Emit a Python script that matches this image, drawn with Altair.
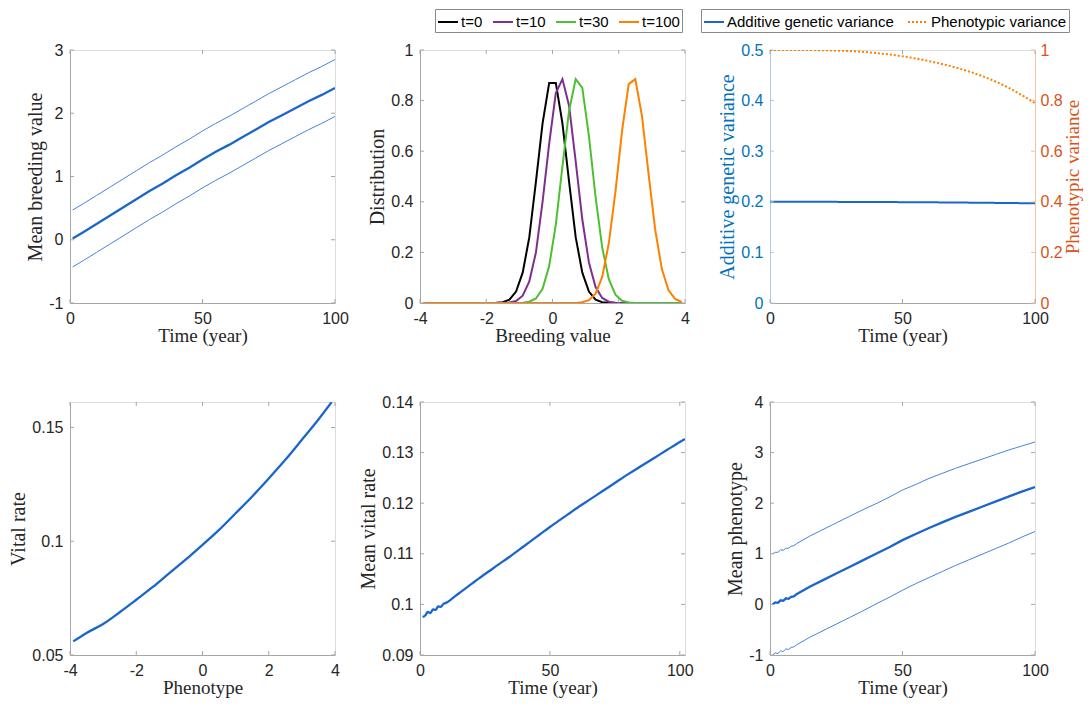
import altair as alt
import pandas as pd

# ---------------- data ----------------
# Panel 1: mean breeding value over time
time_bv = [1, 5, 10, 15, 20, 25, 30, 35, 40, 45, 50, 55, 60, 65, 70, 75, 80, 85, 90, 95, 100]
bv_mean = [0.02, 0.12, 0.25, 0.38, 0.51, 0.64, 0.77, 0.89, 1.02, 1.14, 1.27, 1.39, 1.50, 1.62,
           1.74, 1.86, 1.97, 2.08, 2.19, 2.29, 2.40]
bv_upper = [0.47, 0.57, 0.70, 0.83, 0.96, 1.09, 1.22, 1.34, 1.47, 1.59, 1.72, 1.84, 1.95, 2.07,
            2.19, 2.31, 2.42, 2.53, 2.64, 2.74, 2.85]
bv_lower = [-0.43, -0.33, -0.20, -0.07, 0.06, 0.19, 0.32, 0.44, 0.57, 0.69, 0.82, 0.94, 1.05, 1.17,
            1.29, 1.41, 1.52, 1.63, 1.74, 1.84, 1.95]

# Panel 2: distribution of breeding values
bv_grid = [-3.9, -3.7, -3.5, -3.3, -3.1, -2.9, -2.7, -2.5, -2.3, -2.1, -1.9, -1.7, -1.5, -1.3,
           -1.1, -0.9, -0.7, -0.5, -0.3, -0.1, 0.1, 0.3, 0.5, 0.7, 0.9, 1.1, 1.3, 1.5, 1.7, 1.9,
           2.1, 2.3, 2.5, 2.7, 2.9, 3.1, 3.3, 3.5, 3.7, 3.9]
dist_t0 = [0, 0, 0, 0, 0, 0, 0, 0, 0, 0, 0, 0.001, 0.003, 0.013, 0.045, 0.12, 0.26, 0.48, 0.71,
           0.87, 0.87, 0.71, 0.48, 0.26, 0.12, 0.045, 0.013, 0.003, 0.001, 0, 0, 0, 0, 0, 0, 0,
           0, 0, 0, 0]
dist_t10 = [0, 0, 0, 0, 0, 0, 0, 0, 0, 0, 0, 0, 0, 0.002, 0.008, 0.029, 0.085, 0.2, 0.4, 0.63,
            0.83, 0.885, 0.78, 0.56, 0.33, 0.16, 0.063, 0.02, 0.005, 0.001, 0, 0, 0, 0, 0, 0, 0,
            0, 0, 0]
dist_t30 = [0, 0, 0, 0, 0, 0, 0, 0, 0, 0, 0, 0, 0, 0, 0, 0.001, 0.005, 0.018, 0.056, 0.146,
            0.31, 0.54, 0.76, 0.885, 0.85, 0.66, 0.42, 0.22, 0.094, 0.033, 0.009, 0.002, 0, 0,
            0, 0, 0, 0, 0, 0]
dist_t100 = [0, 0, 0, 0, 0, 0, 0, 0, 0, 0, 0, 0, 0, 0, 0, 0, 0, 0, 0, 0, 0, 0, 0, 0, 0.003,
             0.011, 0.037, 0.103, 0.236, 0.44, 0.68, 0.865, 0.885, 0.74, 0.51, 0.29, 0.135,
             0.051, 0.016, 0.004]
dist_labels = ["t=0", "t=10", "t=30", "t=100"]

# Panel 3: variances
time_var = [0, 10, 20, 30, 40, 50, 60, 70, 80, 90, 100]
add_gen_var = [0.2, 0.2, 0.1999, 0.1998, 0.1996, 0.1993, 0.199, 0.1986, 0.1981, 0.1976, 0.197]
phen_var = [1.0, 1.0, 0.999, 0.996, 0.988, 0.975, 0.956, 0.931, 0.897, 0.851, 0.79]
var_labels = ["Additive genetic variance", "Phenotypic variance"]

# Panel 4: vital rate vs phenotype
phenotype = [-3.9, -3.5, -3, -2.5, -2, -1.5, -1, -0.5, 0, 0.5, 1, 1.5, 2, 2.5, 3, 3.5, 3.9]
vital_rate = [0.056, 0.0597, 0.0636, 0.0688, 0.0743, 0.0799, 0.086, 0.092, 0.0984, 0.105,
              0.1123, 0.1197, 0.1276, 0.1358, 0.1446, 0.1535, 0.1612]

# Panel 5: mean vital rate over time
time_vr = [1, 2, 3, 4, 5, 6, 7, 8, 9, 10, 12, 15, 20, 25, 30, 35, 40, 45, 50, 55, 60, 65, 70,
           75, 80, 85, 90, 95, 100, 102]
mean_vr = [0.0975, 0.0978, 0.0985, 0.0983, 0.0990, 0.0989, 0.0996, 0.0995, 0.1001, 0.1003,
           0.1010, 0.1022, 0.1041, 0.1060, 0.1078, 0.1096, 0.1115, 0.1134, 0.1153, 0.1171,
           0.1189, 0.1206, 0.1223, 0.1240, 0.1257, 0.1273, 0.1289, 0.1305, 0.1321, 0.1327]

# Panel 6: mean phenotype over time
time_ph = [1, 2, 3, 4, 5, 6, 7, 8, 9, 10, 15, 20, 25, 30, 35, 40, 45, 50, 55, 60, 65, 70, 75,
           80, 85, 90, 95, 100]
ph_mean = [0.0, 0.04, 0.03, 0.08, 0.07, 0.12, 0.11, 0.15, 0.16, 0.2, 0.35, 0.48, 0.61, 0.74,
           0.87, 1.0, 1.13, 1.27, 1.39, 1.51, 1.62, 1.73, 1.83, 1.93, 2.03, 2.13, 2.23, 2.32]
ph_upper = [1.0, 1.03, 1.03, 1.08, 1.07, 1.11, 1.11, 1.15, 1.16, 1.2, 1.35, 1.48, 1.61, 1.74,
            1.87, 1.99, 2.12, 2.26, 2.37, 2.49, 2.59, 2.69, 2.78, 2.87, 2.96, 3.05, 3.13, 3.21]
ph_lower = [-1.0, -0.96, -0.97, -0.92, -0.93, -0.88, -0.89, -0.85, -0.84, -0.8, -0.65, -0.52,
            -0.39, -0.26, -0.13, 0.01, 0.14, 0.28, 0.41, 0.53, 0.65, 0.77, 0.88, 0.99, 1.1,
            1.21, 1.33, 1.44]

# ---------------- style ----------------
W, H = 265, 253
TL = 4
BLUE = "#1a66cc"
THIN = "#4683dc"
TXT = "#262626"
AXC = "#a6a6a6"
SANS = "Liberation Sans"
SERIF = "Liberation Serif"
LEFT_C = "#0072BD"
RIGHT_C = "#D95319"
DIST_COLORS = ["#000000", "#7e2f8e", "#4dbf33", "#ff8000"]
LABEL_EXPR = "datum.value < 0 ? '-' + format(-datum.value, '~g') : format(datum.value, '~g')"


def sc(dom):
    return alt.Scale(domain=dom, nice=False, zero=False)


def ax(title, values, kind, color=TXT, dcolor=AXC, orient=None):
    kw = dict(title=title, values=values, ticks=False, tickSize=0, grid=False,
              domainColor=dcolor, domainWidth=1, labelColor=color, titleColor=color,
              labelFont=SANS, labelFontSize=16, titleFont=SERIF, titleFontSize=20,
              titleFontWeight="normal", labelFlush=False, labelOverlap=False,
              labelExpr=LABEL_EXPR)
    if kind == "x":
        kw.update(labelPadding=7, titlePadding=0, titleFontSize=19)
    else:
        kw.update(labelPadding=7, titlePadding=3)
    if orient == "right":
        kw.update(orient="right", titleAngle=270, titleBaseline="top", labelPadding=5,
                  titlePadding=1, titleFontSize=19)
    elif orient:
        kw["orient"] = orient
    return alt.Axis(**kw)


def xtick_layers(vals, dom, axis):
    d = pd.DataFrame({"v": vals})
    b = alt.Chart(d).mark_rule(color=AXC, strokeWidth=1).encode(
        x=alt.X("v:Q", scale=sc(dom), axis=axis), y=alt.value(H), y2=alt.value(H - TL))
    t = alt.Chart(d).mark_rule(color=AXC, strokeWidth=1).encode(
        x=alt.X("v:Q", scale=sc(dom), axis=axis), y=alt.value(0), y2=alt.value(TL))
    return [b, t]


def ytick_layer(vals, dom, side, axis, color=AXC):
    d = pd.DataFrame({"v": vals})
    if side == "left":
        x0, x1 = 0, TL
    else:
        x0, x1 = W - TL, W
    return alt.Chart(d).mark_rule(color=color, strokeWidth=1).encode(
        y=alt.Y("v:Q", scale=sc(dom), axis=axis), x=alt.value(x0), x2=alt.value(x1))


def band_panel(times, mean, upper, lower, xdom, xvals, ydom, yvals, xtitle, ytitle):
    df = pd.DataFrame({"t": times, "mean": mean, "upper": upper, "lower": lower})
    base = alt.Chart(df)
    xa = ax(xtitle, xvals, "x")
    ya = ax(ytitle, yvals, "y")
    X = alt.X("t:Q", scale=sc(xdom), axis=xa)
    up = base.mark_line(color=THIN, strokeWidth=1, clip=True).encode(
        x=X, y=alt.Y("upper:Q", scale=sc(ydom), axis=ya))
    lo = base.mark_line(color=THIN, strokeWidth=1, clip=True).encode(
        x=X, y=alt.Y("lower:Q", scale=sc(ydom), axis=ya))
    mid = base.mark_line(color=BLUE, strokeWidth=2.3, clip=True).encode(
        x=X, y=alt.Y("mean:Q", scale=sc(ydom), axis=ya))
    layers = [up, lo, mid] + xtick_layers(xvals, xdom, xa) + [
        ytick_layer(yvals, ydom, "left", ya), ytick_layer(yvals, ydom, "right", ya)]
    return alt.layer(*layers).properties(width=W, height=H)


def simple_panel(xs, ys, xdom, xvals, ydom, yvals, xtitle, ytitle):
    df = pd.DataFrame({"x": xs, "y": ys})
    xa = ax(xtitle, xvals, "x")
    ya = ax(ytitle, yvals, "y")
    line = alt.Chart(df).mark_line(color=BLUE, strokeWidth=2.3, clip=True,
                                   interpolate="monotone").encode(
        x=alt.X("x:Q", scale=sc(xdom), axis=xa),
        y=alt.Y("y:Q", scale=sc(ydom), axis=ya))
    layers = [line] + xtick_layers(xvals, xdom, xa) + [
        ytick_layer(yvals, ydom, "left", ya), ytick_layer(yvals, ydom, "right", ya)]
    return alt.layer(*layers).properties(width=W, height=H)


def legend(x, y, colpad):
    return alt.Legend(orient="none", legendX=x, legendY=y, direction="horizontal", title=None,
                      symbolType="stroke", symbolSize=400, symbolStrokeWidth=2,
                      labelFont=SANS, labelFontSize=15, labelColor="#000000", labelOffset=2,
                      columnPadding=colpad, padding=2, strokeColor="#8a8a8a", fillColor="white",
                      labelLimit=400)


# ---------------- panels ----------------
p1 = band_panel(time_bv, bv_mean, bv_upper, bv_lower, [0, 100], [0, 50, 100], [-1, 3],
                [-1, 0, 1, 2, 3], "Time (year)", "Mean breeding value")

rows = []
for lab, vals in zip(dist_labels, [dist_t0, dist_t10, dist_t30, dist_t100]):
    for xv, yv in zip(bv_grid, vals):
        rows.append({"x": xv, "y": yv, "series": lab})
dist_df = pd.DataFrame(rows)
xa2 = ax("Breeding value", [-4, -2, 0, 2, 4], "x")
ya2 = ax("Distribution", [0, 0.2, 0.4, 0.6, 0.8, 1], "y")
dist_line = alt.Chart(dist_df).mark_line(strokeWidth=2, clip=True).encode(
    x=alt.X("x:Q", scale=sc([-4, 4]), axis=xa2),
    y=alt.Y("y:Q", scale=sc([0, 1]), axis=ya2),
    color=alt.Color("series:N", scale=alt.Scale(domain=dist_labels, range=DIST_COLORS),
                    legend=legend(15, -41, 6)),
    order=alt.Order("x:Q"))
p2 = alt.layer(*([dist_line] + xtick_layers([-4, -2, 0, 2, 4], [-4, 4], xa2) + [
    ytick_layer([0, 0.2, 0.4, 0.6, 0.8, 1], [0, 1], "left", ya2),
    ytick_layer([0, 0.2, 0.4, 0.6, 0.8, 1], [0, 1], "right", ya2)])).properties(width=W, height=H)

va_df = pd.DataFrame({"t": time_var, "v": add_gen_var, "series": var_labels[0]})
vp_df = pd.DataFrame({"t": time_var, "v": phen_var, "series": var_labels[1]})
col_enc = alt.Color("series:N", scale=alt.Scale(domain=var_labels, range=[BLUE, "#ff8000"]),
                    legend=legend(-69, -41, 10))
dash_enc = alt.StrokeDash("series:N", scale=alt.Scale(domain=var_labels, range=[[1, 0], [2, 2]]),
                          legend=legend(-69, -41, 10))
xa3 = ax("Time (year)", [0, 50, 100], "x")
yl3 = ax("Additive genetic variance", [0, 0.1, 0.2, 0.3, 0.4, 0.5], "y",
         color=LEFT_C, dcolor="#a9cbe8", orient="left")
yr3 = ax("Phenotypic variance", [0, 0.2, 0.4, 0.6, 0.8, 1], "y",
         color=RIGHT_C, dcolor="#f2c0a8", orient="right")
X3 = alt.X("t:Q", scale=sc([0, 100]), axis=xa3)
va_line = alt.Chart(va_df).mark_line(strokeWidth=2, clip=True, interpolate="monotone").encode(
    x=X3, y=alt.Y("v:Q", scale=sc([0, 0.5]), axis=yl3),
    color=col_enc, strokeDash=dash_enc)
vp_line = alt.Chart(vp_df).mark_line(strokeWidth=2, clip=True, interpolate="monotone").encode(
    x=X3, y=alt.Y("v:Q", scale=sc([0, 1]), axis=yr3),
    color=col_enc, strokeDash=dash_enc)
left3 = alt.layer(*([va_line] + xtick_layers([0, 50, 100], [0, 100], xa3) + [
    ytick_layer([0, 0.1, 0.2, 0.3, 0.4, 0.5], [0, 0.5], "left", yl3, color="#a9cbe8")]))
right3 = alt.layer(vp_line, ytick_layer([0, 0.2, 0.4, 0.6, 0.8, 1], [0, 1], "right", yr3,
                                        color="#f2c0a8"))
p3 = alt.layer(left3, right3).resolve_scale(y="independent").properties(width=W, height=H)

p4 = simple_panel(phenotype, vital_rate, [-4, 4], [-4, -2, 0, 2, 4], [0.05, 0.1612],
                  [0.05, 0.1, 0.15], "Phenotype", "Vital rate")
p5 = simple_panel(time_vr, mean_vr, [0, 102], [0, 50, 100], [0.09, 0.14],
                  [0.09, 0.1, 0.11, 0.12, 0.13, 0.14], "Time (year)", "Mean vital rate")
p6 = band_panel(time_ph, ph_mean, ph_upper, ph_lower, [0, 100], [0, 50, 100], [-1, 4],
                [-1, 0, 1, 2, 3, 4], "Time (year)", "Mean phenotype")

chart = alt.concat(p1, p2, p3, p4, p5, p6, columns=3,
                   spacing=alt.RowColnumber(row=99, column=85), bounds="flush").resolve_scale(
    color="independent", strokeDash="independent").properties(
    padding={"left": 0, "top": 0, "right": 0, "bottom": 0}).configure_view(
    stroke=AXC, strokeWidth=1).configure(background="white")

chart.save("out.html", embed_options={"renderer": "svg", "actions": False})
